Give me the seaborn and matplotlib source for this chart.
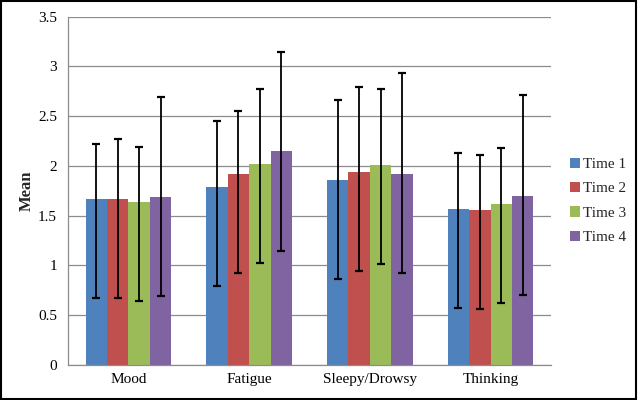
import numpy as np
import pandas as pd
import matplotlib
matplotlib.use("Agg")
import matplotlib.pyplot as plt
import seaborn as sns
from matplotlib.patches import Rectangle

categories = ["Mood", "Fatigue", "Sleepy/Drowsy", "Thinking"]
series = ["Time 1", "Time 2", "Time 3", "Time 4"]
means = {
    "Time 1": [1.67, 1.79, 1.86, 1.57],
    "Time 2": [1.67, 1.92, 1.94, 1.56],
    "Time 3": [1.64, 2.02, 2.01, 1.62],
    "Time 4": [1.69, 2.15, 1.92, 1.70],
}
upper = {
    "Time 1": [2.22, 2.45, 2.66, 2.13],
    "Time 2": [2.27, 2.55, 2.79, 2.11],
    "Time 3": [2.19, 2.77, 2.77, 2.18],
    "Time 4": [2.69, 3.15, 2.93, 2.71],
}
lower = {
    "Time 1": [0.67, 0.79, 0.86, 0.57],
    "Time 2": [0.67, 0.92, 0.94, 0.56],
    "Time 3": [0.64, 1.02, 1.01, 0.62],
    "Time 4": [0.69, 1.15, 0.92, 0.70],
}
colors = ["#4F81BD", "#C0504D", "#9BBB59", "#8064A2"]
yticks = [0, 0.5, 1, 1.5, 2, 2.5, 3, 3.5]
ytick_labels = ["0", "0.5", "1", "1.5", "2", "2.5", "3", "3.5"]

rows = []
for s in series:
    for i, c in enumerate(categories):
        rows.append({"Category": c, "Series": s, "Mean": means[s][i],
                     "Lo": lower[s][i], "Hi": upper[s][i]})
df = pd.DataFrame(rows)

sns.set_theme(style="white")
plt.rcParams["font.family"] = ["Liberation Serif", "DejaVu Serif"]

fig = plt.figure(figsize=(6.38, 4.0), dpi=100)
ax = fig.add_axes([68 / 638, 1 - 365 / 400, (551 - 68) / 638, (365 - 16.7) / 400])

sns.barplot(data=df, x="Category", y="Mean", hue="Series", order=categories,
            hue_order=series, palette=colors, errorbar=None, width=0.71,
            gap=0, saturation=1, ax=ax, linewidth=0, edgecolor="none")

# error bars from data
for patch, (_, r) in zip(ax.patches, df.iterrows()):
    cx = patch.get_x() + patch.get_width() / 2
    ax.errorbar([cx], [r["Mean"]],
                yerr=[[r["Mean"] - r["Lo"]], [r["Hi"] - r["Mean"]]],
                fmt="none", ecolor="black", elinewidth=1.3, capsize=3.0,
                capthick=1.6, zorder=5)

ax.set_ylim(0, 3.5)
ax.set_xlim(-0.5, 3.5)
ax.set_yticks(yticks)
ax.set_yticklabels(ytick_labels)
ax.yaxis.grid(True, color="#8c8c8c", linewidth=0.9)
ax.set_axisbelow(True)
ax.set_xlabel("")
ax.set_ylabel("Mean", fontsize=12, fontweight="bold")
ax.yaxis.set_label_coords(-0.068, 0.5)
for side in ["top", "right"]:
    ax.spines[side].set_visible(False)
for side in ["left", "bottom"]:
    ax.spines[side].set_color("#8c8c8c")
    ax.spines[side].set_linewidth(0.9)
ax.tick_params(axis="both", labelsize=11, colors="black", length=0, pad=6)
ax.tick_params(axis="y", pad=8)
# category boundary ticks
ax.set_xticks([-0.5, 0.5, 1.5, 2.5, 3.5], minor=True)
ax.tick_params(axis="x", which="minor", length=4, color="#8c8c8c", width=0.9, direction="out")

leg = ax.legend(loc="center left", bbox_to_anchor=(564 / 638, 1 - 201 / 400),
                bbox_transform=fig.transFigure, frameon=False, fontsize=11,
                handlelength=0.65, handleheight=0.65, handletextpad=0.2,
                labelspacing=0.72, borderaxespad=0)

fig.patches.append(Rectangle((0.002, 0.003), 0.995, 0.994, transform=fig.transFigure,
                             fill=False, edgecolor="black", linewidth=1.5))

fig.savefig("out.png", dpi=100)
